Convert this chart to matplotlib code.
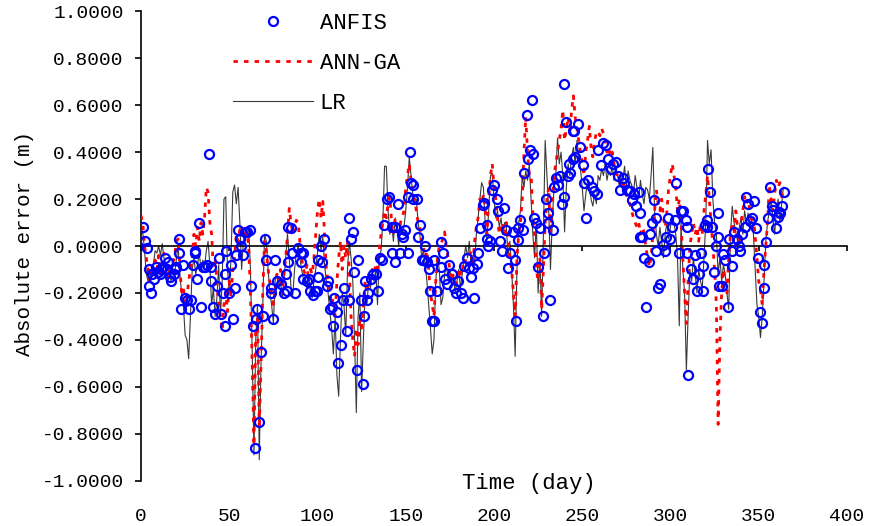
import matplotlib
matplotlib.use("Agg")
import matplotlib.pyplot as plt

plt.rcParams['font.family'] = ['Liberation Mono', 'DejaVu Sans']

# ANFIS error points (day, error in m)
anfis_pts = [
    (1.1, 0.08), (2.5, 0.02), (3.6, -0.01), (4.5, -0.10), (4.5, -0.17), (5.9, -0.20), (6.2, -0.12),
    (7.4, -0.14), (8.7, -0.09), (9.5, -0.11), (10.6, -0.12), (11.5, -0.10), (12.5, -0.09), (13.8, -0.05),
    (14.9, -0.10), (15.5, -0.07), (16.2, -0.13), (17.2, -0.15), (18.7, -0.12), (19.2, -0.10), (20.0, -0.09),
    (21.5, 0.03), (21.5, -0.03), (22.5, -0.27), (23.8, -0.08), (24.7, -0.22), (26.2, -0.23), (27.2, -0.27),
    (28.5, -0.23), (29.5, -0.08), (30.4, -0.03), (30.8, -0.02), (31.9, -0.14), (32.7, 0.10), (33.8, -0.26),
    (35.1, -0.09), (36.0, -0.09), (37.6, -0.08), (38.5, 0.39), (39.5, -0.09), (39.5, -0.15), (40.8, -0.26),
    (41.7, -0.29), (43.2, -0.17), (44.2, -0.05), (45.5, -0.29), (46.5, -0.20), (47.4, -0.34), (47.4, -0.12),
    (48.3, -0.02), (49.9, -0.20), (51.2, -0.08), (52.1, -0.31), (53.1, -0.18), (54.0, -0.04), (54.9, 0.07),
    (55.9, 0.03), (56.8, 0.00), (57.8, -0.04), (58.7, 0.06), (60.2, 0.06), (61.6, 0.07), (62.5, -0.17),
    (63.5, -0.34), (64.4, -0.86), (65.3, -0.31), (65.7, -0.27), (66.9, -0.75), (67.8, -0.45), (69.1, -0.30),
    (70.1, 0.03), (71.0, -0.06), (73.5, -0.18), (73.8, -0.20), (74.8, -0.31), (75.7, -0.06), (77.2, -0.15),
    (79.1, -0.16), (81.0, -0.20), (82.3, -0.12), (82.5, -0.19), (83.3, 0.08), (83.5, -0.07), (85.0, 0.075),
    (85.8, -0.03), (87.3, -0.20), (89.1, -0.01), (90.6, -0.03), (90.6, -0.07), (91.9, -0.03), (91.9, -0.14),
    (93.9, -0.15), (95.2, -0.14), (95.8, -0.19), (97.7, -0.21), (98.6, -0.19), (99.5, -0.19), (100.5, -0.13),
    (100.5, -0.06), (102.0, 0.00), (102.7, -0.07), (103.9, 0.03), (105.2, -0.17), (106.1, -0.15),
    (107.1, -0.27), (108.0, -0.26), (109.0, -0.34), (109.5, -0.22), (110.9, -0.28), (111.8, -0.50),
    (113.3, -0.42), (114.2, -0.23), (115.2, -0.18), (116.5, -0.36), (117.8, 0.12), (117.8, -0.23),
    (118.9, 0.03), (119.9, 0.06), (120.8, -0.11), (122.2, -0.53), (123.1, -0.06), (124.6, -0.23),
    (125.6, -0.59), (126.5, -0.30), (126.9, -0.15), (127.8, -0.23), (128.8, -0.20), (130.3, -0.14),
    (131.6, -0.12), (132.9, -0.12), (134.4, -0.19), (135.4, -0.05), (136.7, -0.06), (137.9, 0.09),
    (139.2, 0.20), (140.5, 0.21), (142.1, 0.08), (142.4, -0.03), (143.9, 0.08), (143.9, -0.07), (145.8, 0.18),
    (146.7, -0.03), (147.7, 0.05), (148.6, 0.04), (149.5, 0.07), (151.1, 0.21), (151.1, -0.03), (152.4, 0.40),
    (152.9, 0.27), (154.3, 0.26), (154.3, 0.20), (156.1, 0.20), (157.1, 0.04), (158.0, 0.09), (159.3, -0.06),
    (160.4, -0.06), (160.8, 0.00), (162.3, -0.07), (163.1, -0.10), (163.6, -0.19), (164.6, -0.32),
    (166.0, -0.32), (166.1, -0.06), (167.5, -0.19), (169.8, 0.015), (169.8, -0.09), (170.9, -0.03),
    (172.2, -0.14), (173.2, -0.16), (174.7, -0.08), (176.0, -0.12), (177.3, -0.18), (178.5, -0.20),
    (179.8, -0.15), (181.1, -0.20), (182.2, -0.22), (183.0, -0.085), (184.5, -0.05), (186.0, -0.095),
    (186.8, -0.13), (187.9, -0.095), (188.9, -0.22), (190.2, -0.077), (191.1, -0.03), (192.1, 0.075),
    (193.6, 0.175), (194.5, 0.185), (195.9, 0.09), (195.9, 0.03), (196.8, 0.00), (197.8, 0.02), (199.1, 0.24),
    (200.2, 0.26), (201.6, 0.20), (202.5, 0.15), (203.5, 0.02), (204.8, -0.02), (205.7, 0.16), (206.8, 0.07),
    (208.1, -0.095), (209.1, -0.03), (210.6, 0.06), (211.9, -0.06), (212.5, -0.32), (213.8, 0.025),
    (213.8, 0.075), (214.7, 0.11), (216.3, 0.07), (217.2, 0.31), (218.5, 0.56), (219.5, 0.37), (220.4, 0.41),
    (221.7, 0.62), (221.9, 0.39), (222.8, 0.12), (223.8, 0.10), (225.1, -0.09), (226.0, 0.075), (227.5, -0.30),
    (228.3, -0.03), (229.4, 0.20), (230.4, 0.14), (230.8, 0.10), (231.7, -0.23), (233.2, 0.07), (234.0, 0.25),
    (235.1, 0.29), (236.4, 0.26), (237.3, 0.30), (238.6, 0.18), (239.6, 0.69), (239.8, 0.21), (240.8, 0.53),
    (241.7, 0.30), (242.7, 0.35), (243.0, 0.31), (244.6, 0.49), (244.6, 0.37), (245.3, 0.49), (245.9, 0.38),
    (247.8, 0.52), (248.7, 0.42), (250.2, 0.345), (250.9, 0.27), (252.1, 0.12), (253.4, 0.28), (255.3, 0.25),
    (256.6, 0.235), (258.2, 0.22), (259.1, 0.41), (260.4, 0.345), (261.9, 0.44), (263.4, 0.43), (264.8, 0.37),
    (266.1, 0.33), (267.6, 0.35), (269.1, 0.36), (270.5, 0.30), (271.4, 0.24), (273.0, 0.29), (273.9, 0.27),
    (275.2, 0.24), (276.8, 0.235), (278.1, 0.195), (279.4, 0.22), (280.6, 0.17), (281.9, 0.23), (282.9, 0.14),
    (282.9, 0.04), (283.8, 0.04), (285.2, -0.05), (286.3, -0.26), (287.6, -0.07), (288.6, 0.05), (289.5, 0.10),
    (290.9, 0.195), (292.0, 0.12), (292.0, -0.02), (293.0, -0.18), (294.3, -0.16), (295.8, 0.005),
    (296.8, -0.02), (297.7, 0.04), (298.7, 0.12), (300.0, 0.03), (300.9, 0.08), (302.3, 0.11), (303.4, 0.27),
    (304.8, -0.03), (306.1, 0.15), (307.2, 0.15), (308.6, 0.11), (309.2, 0.08), (309.2, -0.03), (310.1, -0.55),
    (311.5, -0.10), (313.0, -0.14), (313.7, -0.04), (314.9, -0.19), (316.2, -0.12), (317.5, -0.03),
    (318.7, -0.19), (318.7, -0.085), (319.7, 0.09), (320.5, 0.11), (320.5, 0.08), (321.4, 0.33), (322.4, 0.23),
    (323.7, 0.08), (324.8, -0.11), (325.6, 0.00), (326.7, 0.14), (326.7, 0.04), (327.5, -0.17), (329.4, -0.17),
    (330.0, -0.035), (330.9, -0.06), (332.4, -0.26), (333.2, 0.03), (334.7, -0.02), (335.1, -0.085),
    (336.2, 0.06), (337.6, 0.03), (338.6, 0.00), (339.5, -0.02), (340.8, 0.05), (342.0, 0.08), (342.9, 0.21),
    (343.8, 0.18), (345.1, 0.105), (346.1, 0.12), (347.6, 0.19), (348.3, 0.075), (349.8, -0.05),
    (350.8, -0.28), (352.1, -0.33), (353.0, -0.08), (353.0, -0.18), (354.0, 0.015), (355.1, 0.12),
    (356.4, 0.25), (357.4, 0.17), (358.3, 0.155), (359.7, 0.075), (360.8, 0.125), (361.6, 0.145),
    (362.1, 0.14), (363.1, 0.17), (364.4, 0.23),
]
anfis_day = [p[0] for p in anfis_pts]
anfis_err = [p[1] for p in anfis_pts]

# ANN-GA error, one value per day (day 0..364)
anngA_err = [
    0.13, 0.10, 0.00, -0.05, -0.10, -0.15, -0.08, -0.12, -0.06, -0.10,
    -0.04, -0.12, -0.08, -0.03, -0.09, -0.15, -0.10, -0.13, -0.07, -0.05,
    0.02, 0.03, -0.08, -0.20, -0.18, -0.25, -0.22, -0.15, -0.10, -0.05,
    0.05, 0.00, 0.08, 0.02, 0.10, 0.05, 0.12, 0.25, 0.23, 0.10,
    0.05, -0.10, -0.05, -0.15, -0.25, -0.30, -0.36, -0.25, -0.20, -0.28,
    -0.15, -0.22, -0.10, -0.05, 0.05, 0.02, 0.07, 0.05, 0.08, 0.03,
    0.06, 0.00, -0.20, -0.50, -0.85, -0.35, -0.30, -0.78, -0.50, -0.20,
    0.02, -0.02, -0.10, -0.15, -0.20, -0.25, -0.18, -0.12, -0.15, -0.10,
    -0.20, -0.12, -0.05, 0.05, 0.16, 0.10, 0.05, 0.08, 0.11, 0.10,
    0.02, -0.05, -0.10, -0.12, -0.08, -0.15, -0.10, -0.12, -0.05, 0.05,
    0.15, 0.20, 0.12, 0.19, 0.05, -0.10, -0.15, -0.20, -0.25, -0.22,
    -0.30, -0.15, -0.05, 0.02, -0.10, 0.00, -0.05, 0.02, -0.10, -0.30,
    -0.40, -0.47, -0.35, -0.42, -0.30, -0.35, -0.25, -0.15, -0.20, -0.12,
    -0.15, -0.10, -0.12, -0.08, -0.10, -0.02, 0.05, 0.10, 0.15, 0.12,
    0.18, 0.21, 0.10, 0.05, 0.12, 0.08, 0.05, 0.10, 0.12, 0.15,
    0.25, 0.30, 0.35, 0.28, 0.22, 0.20, 0.15, 0.10, 0.08, 0.02,
    0.00, -0.05, -0.02, -0.10, -0.20, -0.25, -0.30, -0.15, -0.05, 0.00,
    0.01, 0.03, 0.06, 0.00, -0.05, -0.10, -0.15, -0.12, -0.18, -0.15,
    -0.10, -0.12, -0.08, -0.10, -0.05, -0.10, -0.05, -0.02, -0.08, 0.02,
    0.08, 0.12, 0.20, 0.18, 0.22, 0.15, 0.05, 0.20, 0.30, 0.35,
    0.25, 0.20, 0.12, 0.05, 0.08, 0.10, 0.05, 0.10, 0.02, -0.05,
    -0.10, -0.20, -0.30, -0.05, 0.05, 0.10, 0.20, 0.40, 0.55, 0.40,
    0.30, 0.30, 0.15, 0.05, -0.10, -0.15, -0.05, -0.27, -0.10, 0.10,
    0.20, 0.25, 0.05, 0.15, 0.30, 0.35, 0.40, 0.45, 0.50, 0.58,
    0.45, 0.50, 0.55, 0.48, 0.58, 0.64, 0.55, 0.50, 0.45, 0.40,
    0.35, 0.30, 0.40, 0.45, 0.51, 0.42, 0.38, 0.45, 0.48, 0.49,
    0.47, 0.50, 0.48, 0.45, 0.40, 0.42, 0.38, 0.40, 0.35, 0.32,
    0.30, 0.28, 0.25, 0.27, 0.25, 0.22, 0.20, 0.18, 0.15, 0.12,
    0.10, 0.08, 0.10, 0.05, 0.08, 0.06, 0.00, -0.05, -0.09, -0.05,
    0.05, 0.15, 0.24, 0.18, 0.15, 0.20, 0.12, 0.08, 0.15, 0.25,
    0.30, 0.35, 0.30, 0.25, 0.15, 0.20, 0.10, -0.05, -0.20, -0.33,
    -0.15, 0.00, 0.05, 0.10, 0.05, 0.08, 0.02, 0.10, 0.05, 0.15,
    0.22, 0.30, 0.20, 0.10, 0.00, -0.10, -0.25, -0.76, -0.40, -0.20,
    -0.10, -0.15, -0.20, -0.05, 0.05, 0.10, 0.05, 0.15, 0.08, 0.02,
    0.10, 0.15, 0.21, 0.18, 0.20, 0.15, 0.10, 0.12, 0.04, -0.05,
    -0.15, -0.19, -0.25, -0.10, 0.00, 0.10, 0.26, 0.20, 0.15, 0.22,
    0.28, 0.25, 0.27, 0.20, 0.25,
]

# LR error, one value per day (day 0..364)
lr_err = [
    0.05, 0.06, -0.02, -0.12, -0.15, -0.10, -0.14, -0.08, -0.02, -0.03,
    0.00, -0.04, 0.01, -0.05, -0.10, -0.13, -0.09, -0.15, -0.10, -0.12,
    -0.06, 0.00, -0.12, -0.20, -0.25, -0.38, -0.40, -0.48, -0.30, -0.10,
    -0.05, -0.12, -0.08, -0.03, -0.10, -0.06, -0.09, -0.02, 0.02, -0.08,
    -0.25, -0.18, -0.30, -0.22, -0.08, -0.30, -0.15, 0.20, 0.21, -0.10,
    -0.20, -0.05, 0.23, 0.26, 0.18, 0.25, 0.10, -0.10, 0.02, 0.06,
    0.05, 0.08, -0.10, -0.45, -0.89, -0.40, -0.25, -0.91, -0.50, -0.25,
    0.05, 0.02, -0.10, -0.20, -0.25, -0.33, -0.15, -0.12, -0.18, -0.14,
    -0.22, -0.15, -0.05, 0.05, -0.05, -0.18, -0.21, -0.10, -0.03, 0.00,
    -0.05, -0.10, -0.14, -0.16, -0.18, -0.12, -0.20, -0.22, -0.15, -0.10,
    -0.03, 0.05, -0.02, 0.04, -0.08, -0.15, -0.20, -0.28, -0.35, -0.46,
    -0.30, -0.55, -0.64, -0.40, -0.20, -0.25, -0.38, -0.10, 0.02, -0.05,
    -0.15, -0.40, -0.71, -0.30, -0.20, -0.62, -0.40, -0.20, -0.25, -0.15,
    -0.18, -0.12, -0.15, -0.10, -0.25, -0.05, -0.02, 0.10, 0.34, 0.34,
    0.15, 0.05, 0.10, 0.02, 0.12, 0.08, 0.00, 0.10, 0.05, 0.08,
    0.15, 0.25, 0.38, 0.30, 0.22, 0.18, 0.20, 0.10, 0.05, -0.05,
    -0.02, -0.08, -0.15, -0.25, -0.35, -0.46, -0.40, -0.15, -0.05, -0.10,
    -0.25, -0.22, -0.12, -0.08, -0.14, -0.10, -0.16, -0.12, -0.20, -0.15,
    -0.10, -0.18, -0.12, -0.05, 0.00, -0.05, 0.02, -0.08, -0.04, -0.08,
    0.05, 0.12, 0.20, 0.27, 0.25, 0.10, 0.03, 0.15, 0.30, 0.31,
    0.20, 0.12, 0.15, 0.08, 0.12, 0.05, 0.10, 0.08, -0.05, 0.02,
    -0.10, -0.25, -0.47, -0.10, 0.10, 0.15, 0.30, 0.25, 0.32, 0.28,
    0.35, 0.20, 0.05, -0.05, 0.10, -0.20, -0.05, -0.30, 0.05, 0.45,
    0.30, 0.15, -0.10, 0.10, 0.25, 0.30, 0.46, 0.35, 0.40, 0.30,
    0.06, 0.25, 0.35, 0.30, 0.38, 0.42, 0.35, 0.45, 0.38, 0.33,
    0.25, 0.15, 0.22, 0.28, 0.26, 0.20, 0.17, 0.22, 0.18, 0.30,
    0.28, 0.33, 0.30, 0.35, 0.28, 0.32, 0.30, 0.34, 0.28, 0.33,
    0.30, 0.26, 0.31, 0.28, 0.34, 0.25, 0.32, 0.28, 0.26, 0.22,
    0.30, 0.25, 0.20, 0.28, 0.22, 0.18, 0.25, 0.24, 0.20, 0.30,
    0.42, 0.15, 0.05, 0.00, 0.08, 0.02, -0.05, 0.05, 0.10, 0.03,
    0.08, 0.12, 0.10, 0.05, -0.05, -0.34, 0.10, -0.10, -0.20, -0.53,
    -0.30, -0.10, -0.15, -0.05, -0.12, -0.20, -0.10, -0.15, -0.18, -0.05,
    0.10, 0.45, 0.35, 0.41, 0.20, 0.10, 0.05, -0.12, -0.05, -0.15,
    -0.08, -0.12, -0.20, -0.27, 0.05, 0.17, 0.10, 0.06, 0.02, 0.08,
    0.12, 0.05, 0.15, 0.10, 0.14, 0.08, 0.12, 0.05, -0.10, -0.25,
    -0.30, -0.39, -0.30, -0.15, 0.02, 0.10, 0.15, 0.20, 0.12, 0.05,
    0.15, 0.20, 0.10, 0.18, 0.25,
]
days = list(range(len(lr_err)))

y_ticks = [-1.0, -0.8, -0.6, -0.4, -0.2, 0.0, 0.2, 0.4, 0.6, 0.8, 1.0]
x_ticks = [0, 50, 100, 150, 200, 250, 300, 350, 400]

fig = plt.figure(figsize=(8.71, 5.26), dpi=100)
ax = fig.add_axes([0.1619, 0.0861, 0.8105, 0.8924])

ax.plot(days, lr_err, color='#3a3a3a', lw=0.8, label='LR', zorder=2)
ax.plot(days[:len(anngA_err)], anngA_err, color='red', lw=2.0,
        linestyle=(0, (1.6, 2.2)), label='ANN-GA', zorder=3)
ax.plot(anfis_day, anfis_err, linestyle='none', marker='o', ms=6.5, mfc='none',
        mec='blue', mew=1.6, label='ANFIS', zorder=4)

ax.set_xlim(0, 400)
ax.set_ylim(-1.0, 1.0)
ax.set_yticks(y_ticks)
ax.set_yticklabels(['%.4f' % v for v in y_ticks], fontsize=14)
ax.set_xticks(x_ticks)

ax.spines['top'].set_visible(False)
ax.spines['right'].set_visible(False)
ax.spines['left'].set_linewidth(1.2)
ax.spines['bottom'].set_position(('data', 0))
ax.spines['bottom'].set_linewidth(1.2)
ax.tick_params(axis='y', direction='out', length=4.5, width=1.2, pad=8)
ax.tick_params(axis='x', direction='out', length=3.5, width=1.2, labelbottom=False)

# tick labels sit at the bottom like Excel's "low" label position
sec = ax.secondary_xaxis(0)
sec.spines['bottom'].set_visible(False)
sec.set_xticks(x_ticks)
sec.set_xticklabels([str(t) for t in x_ticks], fontsize=14)
sec.tick_params(axis='x', length=0, pad=20)

ax.text(220, -1.01, 'Time (day)', ha='center', va='center', fontsize=16)
fig.text(24 / 871, 1 - 243 / 526, 'Absolute error (m)', rotation=90,
         ha='center', va='center', fontsize=15)

h, l = ax.get_legend_handles_labels()
order = [2, 1, 0]
ax.legend([h[i] for i in order], [l[i] for i in order], loc='upper left',
          bbox_to_anchor=(233 / 871, 1 - 13 / 526), bbox_transform=fig.transFigure,
          frameon=False, fontsize=16, handlelength=3.6, handletextpad=0.3,
          labelspacing=0.85, borderpad=0, borderaxespad=0)

fig.savefig('out.png', dpi=100)
